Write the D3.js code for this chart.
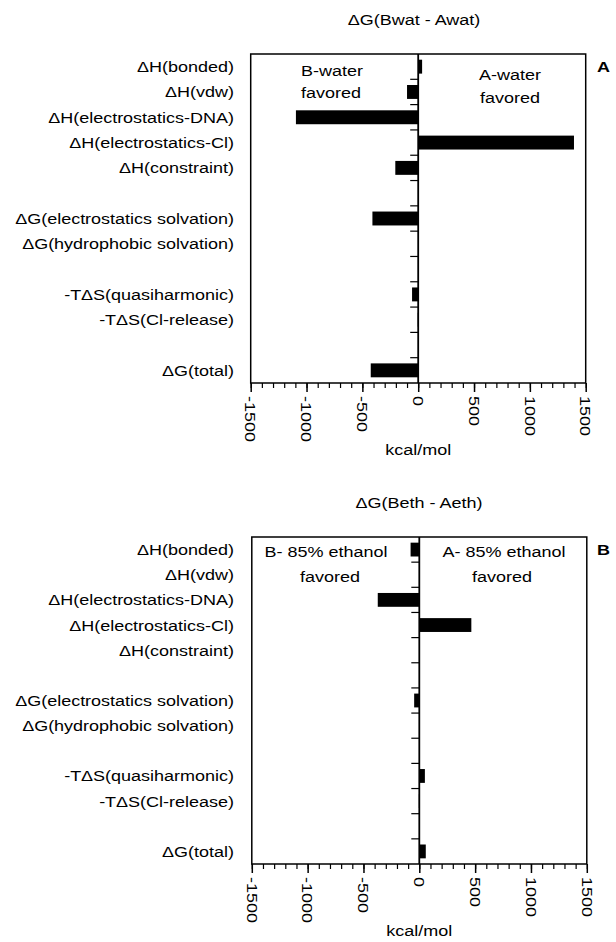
<!DOCTYPE html>
<html>
<head>
<meta charset="utf-8">
<script src="https://cdn.jsdelivr.net/npm/d3@7"></script>
<style>
  body { margin: 0; background: #fff; }
  text { font-family: 'Liberation Sans', Arial, Helvetica, sans-serif; font-size: 15px; fill: #000; }
</style>
</head>
<body>
<script>
var width = 616,
    height = 942;

// row labels, '' = empty gap row
var categories = ['ΔH(bonded)', 'ΔH(vdw)', 'ΔH(electrostatics-DNA)', 'ΔH(electrostatics-Cl)',
  'ΔH(constraint)', '', 'ΔG(electrostatics solvation)', 'ΔG(hydrophobic solvation)', '',
  '-TΔS(quasiharmonic)', '-TΔS(Cl-release)', '', 'ΔG(total)'];

// kcal/mol
var waterValues = [35, -100, -1095, 1395, -205, null, -410, 0, null, -55, -4, null, -425];
var ethanolValues = [-78, 0, -372, 466, 0, null, -46, 0, null, 50, -4, null, 58];

var majorTicks = [-1500, -1000, -500, 0, 500, 1000, 1500];
var minorTicks = d3.range(-1500, 1501, 100);

var svg = d3.select('body')
  .append('svg')
  .attr('width', width)
  .attr('height', height);

// font in the figure is a wide Helvetica, so stretch text horizontally
function label(g, x, y, str, anchor, rot) {
  return g.append('text')
    .attr('transform', 'translate(' + x + ',' + y + ')' + (rot ? ' rotate(' + rot + ')' : '') + ' scale(1.2,1)')
    .attr('text-anchor', anchor || 'start')
    .text(str);
}

function drawPanel(opts) {
  var g = svg.append('g');

  var x = d3.scaleLinear()
    .domain([-1500, 1500])
    .range([opts.left, opts.left + 335]);

  var y = d3.scaleBand()
    .domain(d3.range(categories.length))
    .range([opts.top, opts.bottom])
    .paddingInner(0.45)
    .paddingOuter(0.225);

  var step = y.step();

  label(g, opts.titleX, opts.top - 29, opts.title, 'middle');
  label(g, 597, opts.top + 18, opts.letter, 'start').style('font-weight', 'bold');

  // row labels
  categories.forEach(function(c, i) {
    if (!c) return;
    label(g, 234, y(i) + y.bandwidth() / 2 + 5.5, c, 'end');
  });

  // bars
  g.selectAll('rect.bar')
    .data(opts.values.map(function(v, i) { return {v: v, i: i}; }).filter(function(d) { return d.v !== null; }))
    .enter()
    .append('rect')
    .attr('class', 'bar')
    .attr('x', function(d) { return Math.min(x(0), x(d.v)); })
    .attr('y', function(d) { return y(d.i); })
    .attr('width', function(d) { return Math.abs(x(d.v) - x(0)); })
    .attr('height', y.bandwidth())
    .attr('fill', '#000');

  // frame
  g.append('rect')
    .attr('x', x(-1500))
    .attr('y', opts.top)
    .attr('width', x(1500) - x(-1500))
    .attr('height', opts.bottom - opts.top)
    .attr('fill', 'none')
    .attr('stroke', '#000')
    .attr('stroke-width', 1.5);

  // zero line with row ticks
  g.append('line')
    .attr('x1', x(0)).attr('x2', x(0))
    .attr('y1', opts.top).attr('y2', opts.bottom)
    .attr('stroke', '#000')
    .attr('stroke-width', 1.8);

  g.selectAll('line.rowtick')
    .data(d3.range(1, categories.length))
    .enter()
    .append('line')
    .attr('class', 'rowtick')
    .attr('x1', x(0) - 8).attr('x2', x(0))
    .attr('y1', function(i) { return opts.top + i * step; })
    .attr('y2', function(i) { return opts.top + i * step; })
    .attr('stroke', '#000')
    .attr('stroke-width', 1.2);

  // x axis
  var axis = g.append('g')
    .attr('transform', 'translate(0,' + opts.bottom + ')');

  axis.call(d3.axisBottom(x).tickValues(minorTicks).tickSize(5).tickFormat(''));
  axis.call(function(a) {
    a.select('.domain').remove();
    a.selectAll('line').attr('stroke-width', 1.2);
  });

  var major = g.append('g')
    .attr('transform', 'translate(0,' + opts.bottom + ')')
    .call(d3.axisBottom(x).tickValues(majorTicks).tickSize(9).tickFormat(''));
  major.select('.domain').remove();
  major.selectAll('line').attr('stroke-width', 1.5);

  majorTicks.forEach(function(t) {
    label(g, x(t), opts.bottom + 13, String(t), 'start', 90)
      .attr('dy', '0.35em');
  });

  label(g, x(0), opts.bottom + 72, 'kcal/mol', 'middle');

  // region annotations
  opts.notes.forEach(function(n) {
    label(g, n[0], n[1], n[2], 'middle');
  });
}

drawPanel({
  title: 'ΔG(Bwat - Awat)',
  titleX: 414,
  letter: 'A',
  top: 54,
  bottom: 383,
  left: 250.7,
  values: waterValues,
  notes: [[332, 76, 'B-water'], [331, 98, 'favored'], [510, 80, 'A-water'], [510, 103, 'favored']]
});

drawPanel({
  title: 'ΔG(Beth - Aeth)',
  titleX: 419,
  letter: 'B',
  top: 537,
  bottom: 864,
  left: 251.8,
  values: ethanolValues,
  notes: [[326, 557, 'B- 85% ethanol'], [330, 582, 'favored'], [504, 557, 'A- 85% ethanol'], [502, 582, 'favored']]
});
</script>
</body>
</html>
